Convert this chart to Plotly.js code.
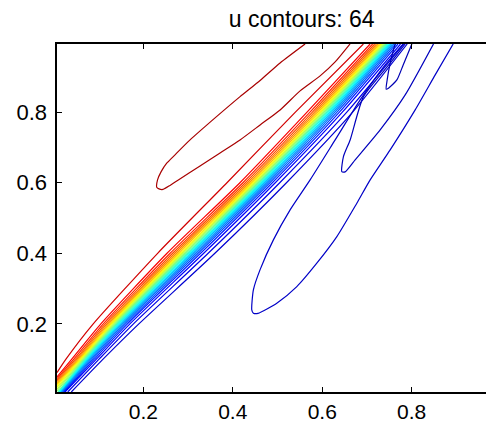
<!DOCTYPE html>
<html>
<head>
<meta charset="utf-8">
<script src="https://cdn.plot.ly/plotly-3.0.1.min.js"></script>
<style>
html,body{margin:0;padding:0;overflow:hidden;background:#fff;}
#chart{width:500px;height:424px;}
</style>
</head>
<body>
<div id="chart"></div>
<script>
// ---- data (x, y in axis units) ----
const titleText = "u contours: 64";
const tickVals = [0.2, 0.4, 0.6, 0.8];
const tickText = ["0.2", "0.4", "0.6", "0.8"];

// closed overshoot contour (dark red)
const ellipseX = [0.5617,0.5058,0.4611,0.4163,0.3604,0.3045,0.2709,0.2523,0.2396,0.2318,0.2300,0.2351,0.2441,0.2597,0.2783,0.3268,0.3716,0.4163,0.4611,0.5058,0.5505,0.5953,0.6289,0.6622];
const ellipseY = [0.9932,0.9394,0.8898,0.8439,0.7836,0.7212,0.6790,0.6552,0.6306,0.6079,0.5873,0.5824,0.5810,0.5924,0.6079,0.6476,0.6844,0.7212,0.7637,0.8062,0.8601,0.9026,0.9422,0.9932];
const ellipseLevel = 0.96;

// outer red front line
const redOuterX = [0.007,0.027,0.088,0.232,0.387,0.540,0.692];
const redOuterY = [0.062,0.100,0.200,0.400,0.600,0.800,0.993];
const redOuterLevel = 0.92;

// steep front: contour levels and x positions at bandYs
const bandYs = [0.1,0.2,0.4,0.6,0.8,0.993];
const bandLevels = [0.88,0.84,0.80,0.76,0.72,0.68,0.64,0.60,0.56,0.52,0.48,0.44,0.40,0.36,0.32,0.28,0.24,0.20,0.16,0.12];
const bandStartX = [0.007,0.007,0.007,0.007,0.007,0.007,0.007,0.007,0.007,0.007,0.009,0.011,0.012,0.014,0.016,0.017,0.019,0.021,0.023,0.025];
const bandStartY = [0.050,0.045,0.041,0.037,0.033,0.029,0.025,0.020,0.015,0.010,0.007,0.007,0.007,0.007,0.007,0.007,0.007,0.007,0.007,0.007];
const bandX = [
  [0.0400,0.1050,0.2530,0.4160,0.5660,0.7070],
  [0.0446,0.1105,0.2599,0.4226,0.5726,0.7127],
  [0.0484,0.1149,0.2655,0.4280,0.5780,0.7173],
  [0.0516,0.1187,0.2703,0.4327,0.5827,0.7213],
  [0.0545,0.1221,0.2746,0.4368,0.5868,0.7249],
  [0.0571,0.1252,0.2785,0.4406,0.5906,0.7281],
  [0.0596,0.1281,0.2822,0.4441,0.5941,0.7312],
  [0.0619,0.1309,0.2857,0.4475,0.5975,0.7341],
  [0.0642,0.1336,0.2890,0.4507,0.6007,0.7369],
  [0.0664,0.1362,0.2924,0.4539,0.6039,0.7396],
  [0.0686,0.1388,0.2956,0.4571,0.6071,0.7424],
  [0.0708,0.1414,0.2990,0.4603,0.6103,0.7451],
  [0.0731,0.1441,0.3023,0.4635,0.6135,0.7479],
  [0.0754,0.1469,0.3058,0.4669,0.6169,0.7508],
  [0.0779,0.1498,0.3095,0.4704,0.6204,0.7539],
  [0.0805,0.1529,0.3134,0.4742,0.6242,0.7571],
  [0.0834,0.1563,0.3177,0.4783,0.6283,0.7607],
  [0.0866,0.1601,0.3225,0.4830,0.6330,0.7647],
  [0.0904,0.1645,0.3281,0.4884,0.6384,0.7693],
  [0.0950,0.1700,0.3350,0.4950,0.6450,0.7750]
];

// outer blue lines beside the front
const blueOuter1X = [0.031,0.101,0.178,0.345,0.505,0.655,0.782];
const blueOuter1Y = [0.007,0.100,0.200,0.400,0.600,0.800,0.993];
const blueOuter2X = [0.039,0.110,0.190,0.360,0.520,0.668,0.790];
const blueOuter2Y = [0.007,0.100,0.200,0.400,0.600,0.800,0.993];
const blueOuterLevels = [0.10, 0.08];

// undershoot loops (dark blue)
const loop1X = [0.7810,0.7407,0.6848,0.6289,0.5729,0.5282,0.4908,0.4609,0.4461,0.4425,0.4461,0.4564,0.4984,0.5432,0.5879,0.6327,0.6774,0.7072,0.7519,0.8078,0.8526,0.8928];
const loop1Y = [0.9932,0.9337,0.8346,0.7212,0.6079,0.5229,0.4380,0.3530,0.2963,0.2397,0.2303,0.2297,0.2586,0.3057,0.3720,0.4473,0.5419,0.6079,0.6929,0.8062,0.9054,0.9932];
const loop2X = [0.7855,0.7519,0.6922,0.6624,0.6474,0.6438,0.6512,0.6736,0.7295,0.7855,0.8488];
const loop2Y = [0.9932,0.9385,0.8439,0.7212,0.6739,0.6314,0.6306,0.6646,0.7496,0.8487,0.9932];
const loop3X = [0.7631,0.7593,0.7519,0.7452,0.7430,0.7481,0.7669,0.7810,0.8004];
const loop3Y = [0.9932,0.9762,0.9385,0.8912,0.8649,0.8677,0.8912,0.9337,0.9932];
const loopLevels = [0.07, 0.06, 0.05];

// ---- styling ----
function jet(t){
  const c = v => Math.max(0, Math.min(1, v));
  const r = c(1.5 - Math.abs(4*t - 3));
  const g = c(1.5 - Math.abs(4*t - 2));
  const b = c(1.5 - Math.abs(4*t - 1));
  return `rgb(${Math.round(r*255)},${Math.round(g*255)},${Math.round(b*255)})`;
}
const LW = 1.2;
function lineTrace(x, y, t){
  return {type:'scatter', mode:'lines', x:x, y:y, hoverinfo:'skip', showlegend:false,
          line:{color:jet(t), width:LW, shape:'spline', smoothing:0.6}};
}

const traces = [];
traces.push(lineTrace(ellipseX, ellipseY, ellipseLevel));
traces.push(lineTrace(redOuterX, redOuterY, redOuterLevel));
bandX.forEach((row, k) => {
  traces.push(lineTrace([bandStartX[k]].concat(row), [bandStartY[k]].concat(bandYs), bandLevels[k]));
});
traces.push(lineTrace(blueOuter1X, blueOuter1Y, blueOuterLevels[0]));
traces.push(lineTrace(blueOuter2X, blueOuter2Y, blueOuterLevels[1]));
traces.push(lineTrace(loop1X, loop1Y, loopLevels[0]));
traces.push(lineTrace(loop2X, loop2Y, loopLevels[1]));
traces.push(lineTrace(loop3X, loop3Y, loopLevels[2]));

const FONT = '"Liberation Sans", Arial, sans-serif';
const axisCommon = {
  showgrid:false, zeroline:false, showline:true, linecolor:'#000', linewidth:1.6,
  mirror:'ticks', ticks:'inside', ticklen:5, tickwidth:1, tickcolor:'#000',
  tickvals:tickVals, ticktext:tickText
};

const layout = {
  width:500, height:424,
  margin:{l:57, r:2, t:44, b:32, pad:0},
  paper_bgcolor:'#fff', plot_bgcolor:'#fff',
  title:{text:titleText, x:277.5/500, xanchor:'center', xref:'paper',
         y:1-19/424, yref:'container', yanchor:'middle',
         font:{family:FONT, size:23, color:'#000'}},
  xaxis:Object.assign({}, axisCommon, {range:[0.007, 0.993], ticklabelstandoff:0,
         tickfont:{family:FONT, size:21, color:'#000'}}),
  yaxis:Object.assign({}, axisCommon, {range:[0.007, 0.993], ticklabelstandoff:4,
         tickfont:{family:FONT, size:22, color:'#000'}})
};

Plotly.newPlot('chart', traces, layout, {staticPlot:true, displayModeBar:false});
</script>
</body>
</html>
